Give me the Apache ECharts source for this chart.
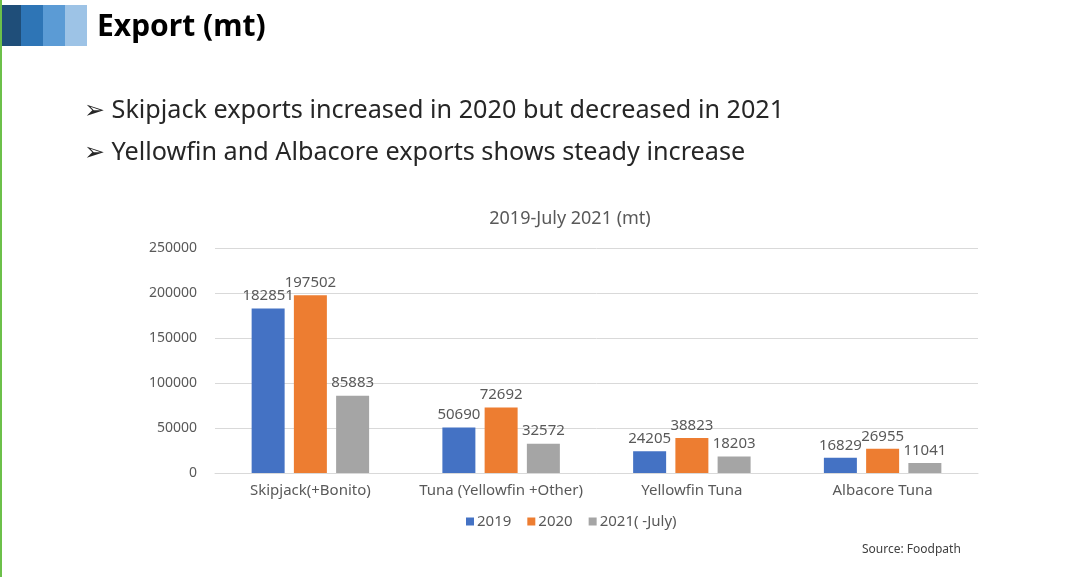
<!DOCTYPE html>
<html><head><meta charset="utf-8">
<script src="https://cdn.jsdelivr.net/npm/echarts@6/dist/echarts.min.js"></script>
<style>html,body{margin:0;padding:0;background:#fff;}#c{width:1080px;height:577px;}</style>
</head><body><div id="c"></div>
<script>
const categories = ['Skipjack(+Bonito)', 'Tuna (Yellowfin +Other)', 'Yellowfin Tuna', 'Albacore Tuna'];
const seriesNames = ['2019', '2020', '2021( -July)'];
const values2019 = [182851, 50690, 24205, 16829];
const values2020 = [197502, 72692, 38823, 26955];
const values2021 = [85883, 32572, 18203, 11041];
const colors = ['#4472C4', '#ED7D31', '#A5A5A5'];
const bullets = ['Skipjack exports increased in 2020 but decreased in 2021', 'Yellowfin and Albacore exports shows steady increase'];
const font = '"Noto Sans", "Open Sans", sans-serif';

const chart = echarts.init(document.getElementById('c'));
const labelStyle = {show: true, position: 'top', distance: 5, color: '#595959', fontSize: 15, fontFamily: font};
const mk = (name, data, i) => ({
  name, type: 'bar', data, barWidth: 33, barGap: '28%',
  itemStyle: {color: colors[i]}, label: labelStyle
});
chart.setOption({
  animation: false,
  textStyle: {fontFamily: font},
  title: {text: '2019-July 2021 (mt)', left: 565, textAlign: 'center', top: 205,
    textStyle: {fontSize: 18, fontWeight: 'normal', color: '#595959', fontFamily: font}},
  legend: {left: 461, top: 509, itemWidth: 8, itemHeight: 8, itemGap: 16, icon: 'rect',
    textStyle: {color: '#595959', fontSize: 15, fontFamily: font, padding: [0,0,0,-2]}},
  grid: {left: 215, right: 102, top: 248, bottom: 104},
  xAxis: {type: 'category', data: categories,
    axisLine: {lineStyle: {color: '#D9D9D9'}}, axisTick: {show: false},
    axisLabel: {color: '#595959', fontSize: 15, margin: 10, interval: 0, fontFamily: font}},
  yAxis: {type: 'value', min: 0, max: 250000, interval: 50000,
    axisLine: {show: false}, axisTick: {show: false},
    splitLine: {lineStyle: {color: '#D9D9D9'}},
    axisLabel: {color: '#595959', fontSize: 14, margin: 18, fontFamily: font, formatter: v => String(v)}},
  series: [mk(seriesNames[0], values2019, 0), mk(seriesNames[1], values2020, 1), mk(seriesNames[2], values2021, 2)],
  graphic: [
    {type: 'rect', shape: {x: 0, y: 0, width: 2, height: 577}, style: {fill: '#6CC04A'}},
    {type: 'rect', shape: {x: 2, y: 5, width: 19, height: 41}, style: {fill: '#1F4E79'}},
    {type: 'rect', shape: {x: 21, y: 5, width: 22, height: 41}, style: {fill: '#2E75B6'}},
    {type: 'rect', shape: {x: 43, y: 5, width: 22, height: 41}, style: {fill: '#5B9BD5'}},
    {type: 'rect', shape: {x: 65, y: 5, width: 22, height: 41}, style: {fill: '#9DC3E6'}},
    {type: 'text', left: 97, top: 12, style: {text: 'Export (mt)', fontSize: 30, fontWeight: 'bold', fill: '#000', fontFamily: font}},
    {type: 'text', left: 84, top: 98, style: {text: '\u27A2 ' + bullets[0], fontSize: 25.2, fill: '#262626', fontFamily: font}},
    {type: 'text', left: 84, top: 140, style: {text: '\u27A2 ' + bullets[1], fontSize: 25.2, fill: '#262626', fontFamily: font}},
    {type: 'text', left: 862, top: 544, style: {text: 'Source: Foodpath', fontSize: 12, fill: '#404040', fontFamily: font}}
  ]
});
</script></body></html>
